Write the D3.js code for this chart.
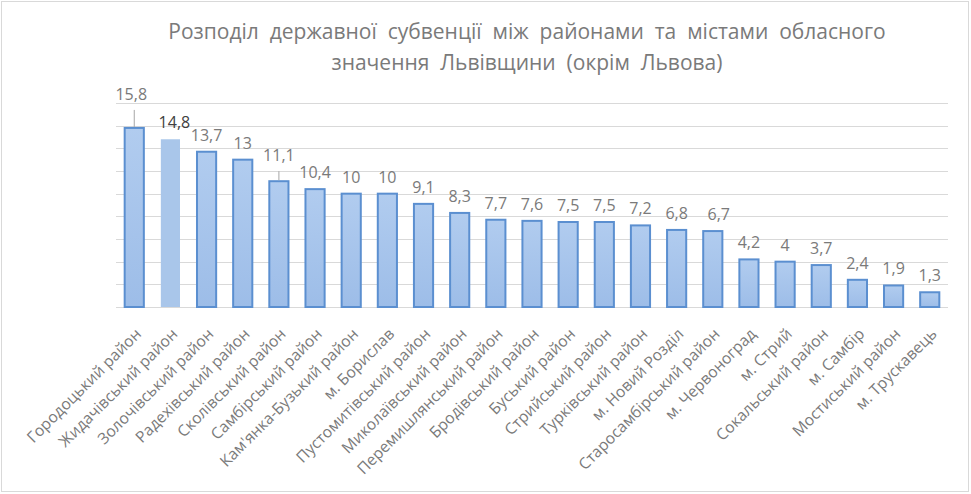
<!DOCTYPE html>
<html>
<head>
<meta charset="utf-8">
<script src="https://cdn.jsdelivr.net/npm/d3@7"></script>
<style>
  body { margin: 0; background: #fff; }
  text { font-family: "Open Sans", "Noto Sans", sans-serif; fill: #595959; }
</style>
</head>
<body>
<div id="chart"></div>
<script>
const districts = [
  "Городоцький район", "Жидачівський район", "Золочівський район", "Радехівський район",
  "Сколівський район", "Самбірський район", "Кам'янка-Бузький район", "м. Борислав",
  "Пустомитівський район", "Миколаївський район", "Перемишлянський район", "Бродівський район",
  "Буський район", "Стрийський район", "Турківський район", "м. Новий Розділ",
  "Старосамбірський район", "м. Червоноград", "м. Стрий", "Сокальський район",
  "м. Самбір", "Мостиський район", "м. Трускавець"
];
const subvention = [15.8, 14.8, 13.7, 13, 11.1, 10.4, 10, 10, 9.1, 8.3, 7.7, 7.6, 7.5, 7.5, 7.2, 6.8, 6.7, 4.2, 4, 3.7, 2.4, 1.9, 1.3];
const yTicks = [0, 2, 4, 6, 8, 10, 12, 14, 16, 18];
const titleLines = [
  "Розподіл  державної  субвенції  між  районами  та  містами  обласного",
  "значення  Львівщини  (окрім  Львова)"
];

const width = 971;
const height = 494;
const margin = { top: 103, right: 23, bottom: 187, left: 116 };

const svg = d3.select("#chart")
  .append("svg")
  .attr("width", width)
  .attr("height", height);

// frame around the chart
svg.append("rect")
  .attr("x", 1.5).attr("y", 1.5)
  .attr("width", 967).attr("height", 490)
  .attr("fill", "#fff")
  .attr("stroke", "#d9d9d9");

const defs = svg.append("defs");
const grad = defs.append("linearGradient")
  .attr("id", "barFill")
  .attr("x1", 0).attr("y1", 0).attr("x2", 0).attr("y2", 1);
grad.append("stop").attr("offset", "0%").attr("stop-color", "#b1ccef");
grad.append("stop").attr("offset", "100%").attr("stop-color", "#9dbde8");

const x = d3.scaleBand()
  .domain(districts)
  .range([margin.left, width - margin.right])
  .paddingInner(0.47)
  .paddingOuter(0.24);

const y = d3.scaleLinear()
  .domain([0, 18])
  .range([height - margin.bottom, margin.top]);

// title
svg.append("g")
  .selectAll("text")
  .data(titleLines)
  .join("text")
  .attr("x", 527)
  .attr("y", (d, i) => 39 + i * 31)
  .attr("text-anchor", "middle")
  .style("font-size", "21px")
  .style("fill", "#7a7a7a")
  .style("white-space", "pre")
  .text(d => d);

// gridlines
svg.append("g")
  .selectAll("line")
  .data(yTicks)
  .join("line")
  .attr("x1", margin.left)
  .attr("x2", width - margin.right)
  .attr("y1", d => Math.round(y(d)) + 0.5)
  .attr("y2", d => Math.round(y(d)) + 0.5)
  .attr("stroke", "#d9d9d9")
  .attr("stroke-width", 1);

const rows = districts.map((name, i) => ({ name, value: subvention[i], i }));

// bars
svg.append("g")
  .selectAll("rect")
  .data(rows)
  .join("rect")
  .attr("x", d => x(d.name))
  .attr("y", d => y(d.value))
  .attr("width", x.bandwidth())
  .attr("height", d => y(0) - y(d.value))
  .attr("fill", d => d.i === 1 ? "#a9c6ea" : "url(#barFill)")
  .attr("stroke", d => d.i === 1 ? "none" : "#5b8fd0")
  .attr("stroke-width", 2);

// labels moved off the bar get a leader line
const lifted = { 0: 17, 4: 9 };
const shiftX = { 0: -3, 1: 4, 16: 6 };

svg.append("g")
  .selectAll("line")
  .data(rows.filter(d => lifted[d.i]))
  .join("line")
  .attr("x1", d => x(d.name) + x.bandwidth() / 2)
  .attr("x2", d => x(d.name) + x.bandwidth() / 2)
  .attr("y1", d => y(d.value) - 1)
  .attr("y2", d => y(d.value) - lifted[d.i] - 1)
  .attr("stroke", "#a6a6a6");

svg.append("g")
  .selectAll("text")
  .data(rows)
  .join("text")
  .attr("x", d => x(d.name) + x.bandwidth() / 2 + (shiftX[d.i] || 0))
  .attr("y", d => y(d.value) - 11 - (lifted[d.i] || 0))
  .attr("text-anchor", "middle")
  .style("font-size", "16px")
  .style("fill", d => d.i === 1 ? "#404040" : "#7a7a7a")
  .text(d => String(d.value).replace(".", ","));

// category labels, rotated
svg.append("g")
  .selectAll("text")
  .data(rows)
  .join("text")
  .attr("transform", d => `translate(${x(d.name) + x.bandwidth() / 2 + 8},335) rotate(-45)`)
  .attr("text-anchor", "end")
  .style("font-size", "15.7px")
  .style("fill", "#7a7a7a")
  .text(d => d.name);
</script>
</body>
</html>
